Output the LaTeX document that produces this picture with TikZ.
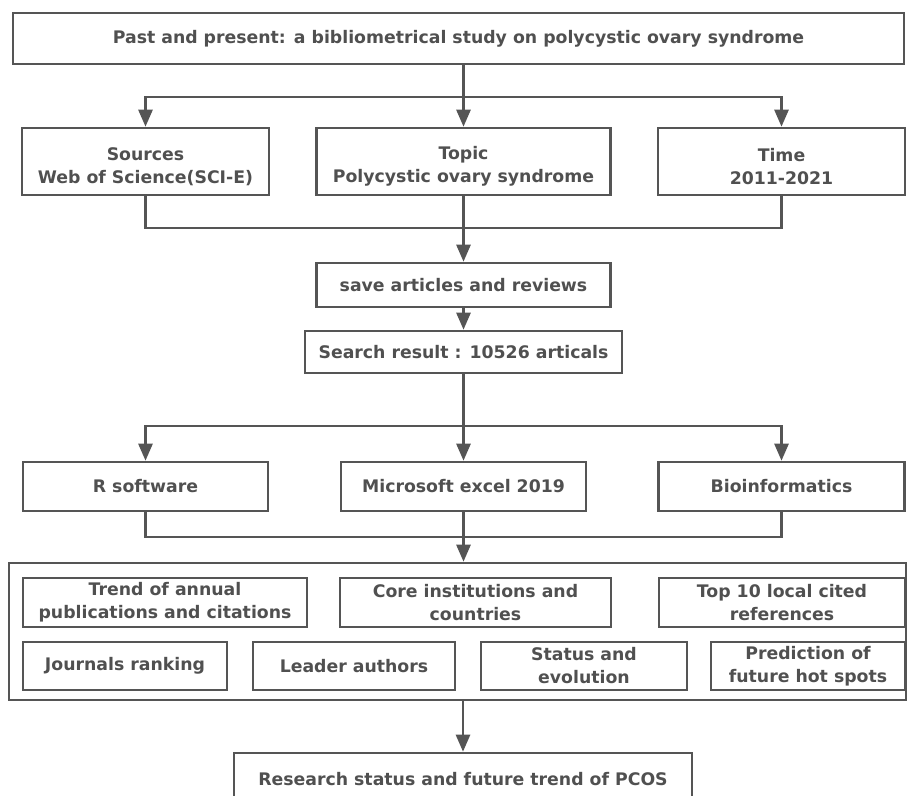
\documentclass[tikz,border=0pt]{standalone}
\usepackage{fontspec}
\setmainfont{DejaVu Sans}
\usetikzlibrary{arrows.meta}
\definecolor{ln}{HTML}{555555}
\definecolor{tx}{HTML}{505050}
\newcommand{\topstrut}{\rule{0pt}{23pt}}
\tikzset{
  bx/.style={draw=ln, line width=2.6pt, fill=white, text=tx, font=\fontsize{17.3}{23}\selectfont\bfseries, align=center, inner sep=0pt},
  ln/.style={draw=ln, line width=2.6pt},
  ar/.style={ln, -{Triangle[length=17pt,width=14pt]}},
}
\begin{document}
\begin{tikzpicture}[x=1pt,y=-1pt]
\useasboundingbox[fill=white] (0,0) rectangle (907,795);
% nodes
\node[bx, minimum width=891pt, minimum height=51pt] (top) at (458.5,38.5) {Past and present: a bibliometrical study on polycystic ovary syndrome};
\node[bx, minimum width=247pt, minimum height=67pt] (src) at (145.5,161.5) {\topstrut Sources\\Web of Science(SCI-E)};
\node[bx, minimum width=294pt, minimum height=67pt] (topic) at (463.5,161.5) {\topstrut Topic\\Polycystic ovary syndrome};
\node[bx, minimum width=247pt, minimum height=67pt] (time) at (781.5,161.5) {\topstrut Time\\2011-2021};
\node[bx, minimum width=294pt, minimum height=44pt] (save) at (463.5,285) {save articles and reviews};
\node[bx, minimum width=317pt, minimum height=42pt] (search) at (463.5,352) {Search result : 10526 articals};
\node[bx, minimum width=245pt, minimum height=49pt] (r) at (145.5,486.5) {R software};
\node[bx, minimum width=245pt, minimum height=49pt] (excel) at (463.5,486.5) {Microsoft excel 2019};
\node[bx, minimum width=246pt, minimum height=49pt] (bio) at (781.5,486.5) {Bioinformatics};
\node[bx, minimum width=897pt, minimum height=137pt] (big) at (457.5,631.5) {};
\node[bx, minimum width=284pt, minimum height=49pt] (a1) at (165,602.5) {Trend of annual\\publications and citations};
\node[bx, minimum width=271pt, minimum height=49pt] (a2) at (475.5,602.5) {Core institutions and\\countries};
\node[bx, minimum width=246pt, minimum height=49pt] (a3) at (782,602.5) {Top 10 local cited\\references};
\node[bx, minimum width=204pt, minimum height=48pt] (b1) at (125,666) {Journals ranking};
\node[bx, minimum width=202pt, minimum height=48pt] (b2) at (354,666) {Leader authors};
\node[bx, minimum width=206pt, minimum height=48pt] (b3) at (584,666) {Status and\\evolution};
\node[bx, minimum width=194pt, minimum height=48pt] (b4) at (808,666) {Prediction of\\future hot spots};
\node[bx, minimum width=458pt, minimum height=56pt] (fin) at (463,781) {\raisebox{4pt}{Research status and future trend of PCOS}};
% split 1
\coordinate (s1) at (463.5,97);
\draw[ln] (top.south -| s1) -- (s1);
\draw[ar] (s1) -| (src.north);
\draw[ar] (s1) -| (time.north);
\draw[ar] (s1) -- (topic.north);
% merge 1
\coordinate (m1) at (463.5,228);
\draw[ln] (src.south) |- (m1);
\draw[ln] (time.south) |- (m1);
\draw[ar] (topic.south) -- (save.north);
% save -> search
\draw[ar] (save.south) -- (search.north);
% split 2
\coordinate (s2) at (463.5,426);
\draw[ln] (search.south) -- (s2);
\draw[ar] (s2) -| (r.north);
\draw[ar] (s2) -| (bio.north);
\draw[ar] (s2) -- (excel.north);
% merge 2
\coordinate (m2) at (463.5,537);
\draw[ln] (r.south) |- (m2);
\draw[ln] (bio.south) |- (m2);
\draw[ln] (excel.south) -- (m2);
\draw[ar] (m2) -- (big.north -| m2);
% final
\draw[ar] (big.south -| fin.north) -- (fin.north);
\end{tikzpicture}
\end{document}
